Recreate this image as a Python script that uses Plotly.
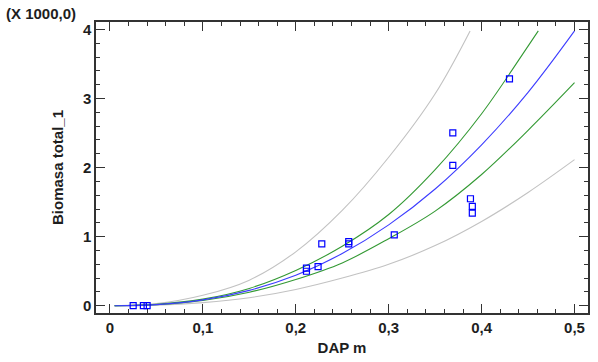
import plotly.graph_objects as go

# Observed data (DAP m, Biomasa total_1 in thousands)
dap = [0.025, 0.036, 0.040, 0.2115, 0.2115, 0.224, 0.228, 0.257, 0.257, 0.306,
       0.369, 0.369, 0.388, 0.390, 0.390, 0.430]
biomasa = [0.0, 0.0, 0.0, 0.543, 0.499, 0.566, 0.896, 0.929, 0.896, 1.026,
           2.502, 2.032, 1.549, 1.437, 1.341, 3.286]

# Fitted curve and limits
x_fit = [0.005, 0.05, 0.1, 0.15, 0.2, 0.25, 0.3, 0.35, 0.4, 0.45, 0.5]
y_fit = [0.0, 0.016, 0.084, 0.222, 0.44, 0.755, 1.17, 1.69, 2.33, 3.09, 3.98]

x_conf_up = [0.005, 0.05, 0.1, 0.15, 0.2, 0.25, 0.3, 0.35, 0.4, 0.45, 0.461]
y_conf_up = [0.0, 0.02, 0.095, 0.25, 0.51, 0.86, 1.32, 1.97, 2.78, 3.76, 3.98]

x_conf_lo = [0.005, 0.05, 0.1, 0.15, 0.2, 0.25, 0.3, 0.35, 0.4, 0.45, 0.5]
y_conf_lo = [0.0, 0.013, 0.075, 0.195, 0.38, 0.62, 0.97, 1.37, 1.90, 2.54, 3.23]

x_pred_up = [0.005, 0.05, 0.1, 0.15, 0.2, 0.25, 0.3, 0.35, 0.3876]
y_pred_up = [0.0, 0.03, 0.15, 0.37, 0.78, 1.38, 2.15, 3.07, 3.98]

x_pred_lo = [0.005, 0.05, 0.1, 0.15, 0.2, 0.25, 0.3, 0.35, 0.4, 0.45, 0.5]
y_pred_lo = [0.0, 0.008, 0.045, 0.115, 0.235, 0.40, 0.60, 0.87, 1.22, 1.64, 2.115]

GRAY = "#c2c2c2"
GREEN = "#339933"
BLUE = "#3c3cff"
TXT = "#1e1e1e"
FONT = "Liberation Sans, Arial"

fig = go.Figure()
for xs, ys, col in [(x_pred_up, y_pred_up, GRAY), (x_pred_lo, y_pred_lo, GRAY),
                    (x_conf_up, y_conf_up, GREEN), (x_conf_lo, y_conf_lo, GREEN),
                    (x_fit, y_fit, BLUE)]:
    fig.add_trace(go.Scatter(x=xs, y=ys, mode="lines",
                             line=dict(color=col, width=1.1, shape="spline"),
                             showlegend=False, hoverinfo="skip"))

fig.add_trace(go.Scatter(x=dap, y=biomasa, mode="markers",
                         marker=dict(symbol="square-open", size=6, color="#0000ff",
                                     line=dict(width=1.2, color="#0000ff")),
                         showlegend=False))

axis_common = dict(showline=True, linecolor="#333333", linewidth=1.5, mirror="allticks",
                   ticks="inside", ticklen=9, tickcolor="#333333", tickwidth=1.3,
                   showgrid=False, zeroline=False,
                   tickfont=dict(family=FONT, size=15, color=TXT, weight="bold"))

fig.update_xaxes(range=[-0.015, 0.5145], tick0=0, dtick=0.1,
                 minor=dict(dtick=0.02, ticks="inside", ticklen=4, tickcolor="#333333", showgrid=False),
                 title=dict(text="DAP m", standoff=8,
                            font=dict(family=FONT, size=15, color=TXT, weight="bold")),
                 **axis_common)
fig.update_yaxes(range=[-0.106, 4.109], tick0=0, dtick=1,
                 minor=dict(dtick=0.2, ticks="inside", ticklen=4, tickcolor="#333333", showgrid=False),
                 title=dict(text="Biomasa total_1", standoff=16,
                            font=dict(family=FONT, size=15, color=TXT, weight="bold")),
                 **axis_common)

fig.add_annotation(text="(X 1000,0)", xref="paper", yref="paper", x=-0.186, y=1.028,
                   xanchor="left", yanchor="middle", showarrow=False,
                   font=dict(family=FONT, size=15, color=TXT, weight="bold"))

fig.update_layout(width=598, height=362, margin=dict(l=96, r=8, t=22, b=49),
                  plot_bgcolor="white", paper_bgcolor="white", separators=",.")

fig.write_html("out.html")
